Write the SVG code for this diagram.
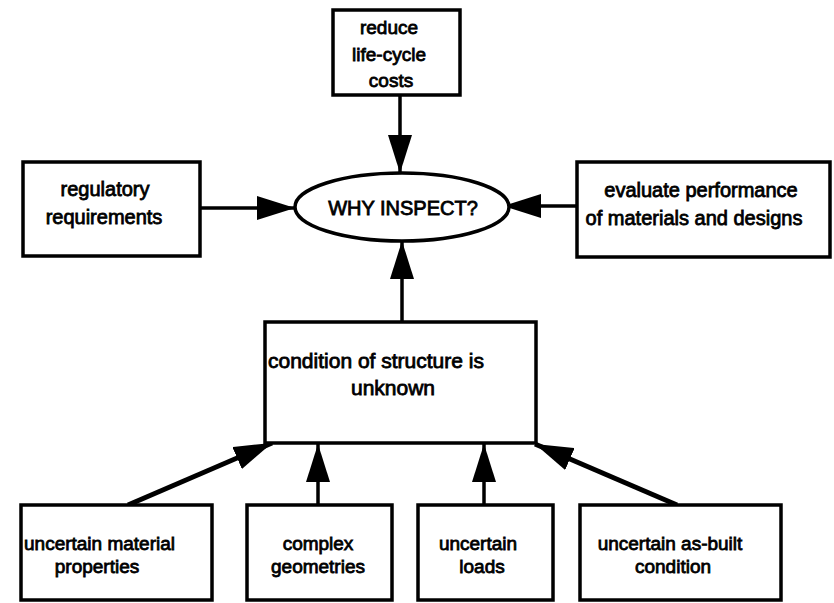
<svg xmlns="http://www.w3.org/2000/svg" width="834" height="603" viewBox="0 0 834 603">
<style>
.box{fill:#fff;stroke:#000;stroke-width:3.5}
.t{font-family:"Liberation Sans",Arial,sans-serif;font-size:19px;fill:#000;stroke:#000;stroke-width:0.8;text-anchor:middle}
.s{text-anchor:start}
.c{stroke:#000;stroke-width:3.5;fill:none;marker-end:url(#ah)}
.d{stroke-width:5}
</style>
<defs>
<marker id="ah" markerUnits="userSpaceOnUse" markerWidth="38" markerHeight="24" refX="38" refY="12" orient="auto" viewBox="0 0 38 24">
<path d="M0,0 L38,12 L0,24 z" fill="#000"/>
</marker>
</defs>
<rect width="834" height="603" fill="#fff"/>
<g id="connectors">
<line class="c" x1="400" y1="95" x2="400" y2="173"/>
<line class="c" x1="200" y1="208" x2="295" y2="208"/>
<line class="c" x1="577" y1="206" x2="503" y2="206"/>
<line class="c" x1="402" y1="322" x2="402" y2="241"/>
<line class="c d" x1="128" y1="505" x2="272" y2="443"/>
<line class="c" x1="318" y1="505" x2="318" y2="444"/>
<line class="c" x1="484" y1="505" x2="484" y2="444"/>
<line class="c d" x1="677" y1="505" x2="535" y2="444"/>
</g>
<g id="why">
<ellipse class="box" cx="402" cy="207" rx="107" ry="34"/>
<text class="t" x="403" y="215" style="font-size:20px">WHY INSPECT?</text>
</g>
<g id="reduce">
<rect class="box" x="333" y="10" width="127" height="85"/>
<text class="t" x="389" y="34">reduce</text>
<text class="t" x="389" y="61">life-cycle</text>
<text class="t" x="391" y="87">costs</text>
</g>
<g id="regulatory">
<rect class="box" x="23" y="162" width="177" height="94"/>
<text class="t" x="105" y="196" style="font-size:20px">regulatory</text>
<text class="t" x="104" y="224" style="font-size:20px">requirements</text>
</g>
<g id="evaluate">
<rect class="box" x="577" y="162" width="253" height="95"/>
<text class="t" x="701" y="197" style="font-size:20px">evaluate performance</text>
<text class="t" x="694" y="225" style="font-size:20px">of materials and designs</text>
</g>
<g id="condition">
<rect class="box" x="265" y="322" width="271" height="121"/>
<text class="t s" x="268" y="368" style="font-size:21px">condition of structure is</text>
<text class="t" x="393" y="395" style="font-size:21px">unknown</text>
</g>
<g id="material">
<rect class="box" x="21" y="505" width="191" height="95"/>
<text class="t s" x="24" y="550">uncertain material</text>
<text class="t" x="97" y="573">properties</text>
</g>
<g id="geometries">
<rect class="box" x="247" y="505" width="145" height="95"/>
<text class="t" x="318" y="550">complex</text>
<text class="t" x="318" y="573">geometries</text>
</g>
<g id="loads">
<rect class="box" x="418" y="505" width="135" height="95"/>
<text class="t" x="478" y="550">uncertain</text>
<text class="t" x="482" y="573">loads</text>
</g>
<g id="asbuilt">
<rect class="box" x="580" y="505" width="201" height="95"/>
<text class="t" x="670" y="550">uncertain as-built</text>
<text class="t" x="673" y="573">condition</text>
</g>
</svg>
